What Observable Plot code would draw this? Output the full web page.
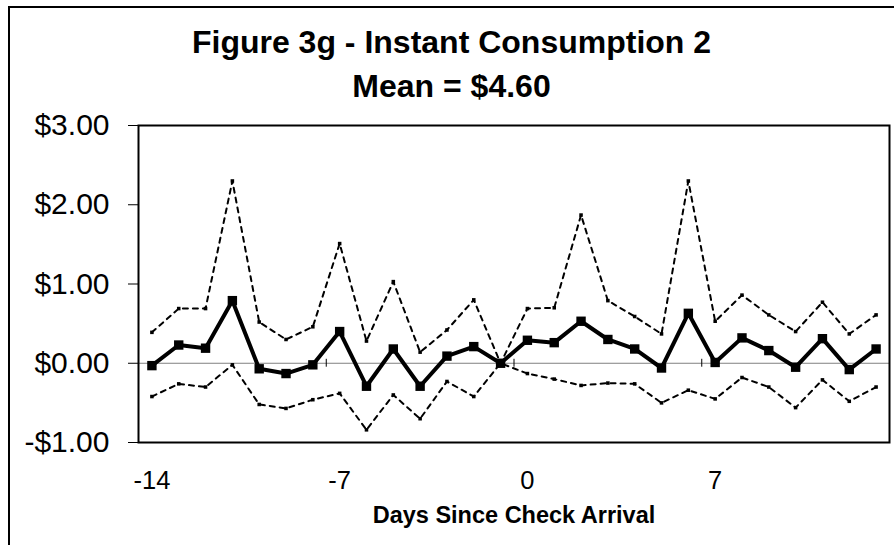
<!DOCTYPE html>
<html><head><meta charset="utf-8">
<script src="https://cdn.jsdelivr.net/npm/d3@7"></script>
<script src="https://cdn.jsdelivr.net/npm/@observablehq/plot@0.6"></script>
<style>
body{margin:0;background:#fff;}
#wrap{position:relative;width:894px;height:545px;overflow:hidden;font-family:"Liberation Sans",Arial,sans-serif;color:#000;}
#frame{position:absolute;left:8px;top:6px;width:900px;height:600px;border-left:2px solid #000;border-top:2px solid #000;}
#title{position:absolute;left:9px;width:885px;top:20px;text-align:center;font-weight:bold;font-size:32px;line-height:44px;}
#chart{position:absolute;left:0;top:0;}
</style></head>
<body><div id="wrap"><div id="frame"></div><div id="title"></div><div id="chart"></div></div>
<script>
const titleLines = ["Figure 3g - Instant Consumption 2", "Mean = $4.60"];
const xAxisTitle = "Days Since Check Arrival";
const days = [-14,-13,-12,-11,-10,-9,-8,-7,-6,-5,-4,-3,-2,-1,0,1,2,3,4,5,6,7,8,9,10,11,12,13];
const meanVals = [-0.03,0.23,0.19,0.79,-0.07,-0.13,-0.02,0.40,-0.29,0.18,-0.29,0.09,0.21,0.00,0.29,0.26,0.53,0.30,0.18,-0.06,0.63,0.01,0.32,0.16,-0.05,0.31,-0.08,0.18];
const upperVals = [0.39,0.69,0.69,2.30,0.52,0.30,0.46,1.51,0.28,1.03,0.14,0.42,0.80,0.00,0.69,0.70,1.87,0.79,0.59,0.37,2.30,0.53,0.86,0.61,0.40,0.77,0.37,0.61];
const lowerVals = [-0.42,-0.26,-0.30,-0.02,-0.52,-0.57,-0.46,-0.38,-0.84,-0.40,-0.70,-0.23,-0.42,0.00,-0.13,-0.20,-0.28,-0.25,-0.26,-0.50,-0.34,-0.45,-0.18,-0.30,-0.56,-0.21,-0.48,-0.30];
const xTickLabels = [-14,-7,0,7];
const xBoundaryTicks = [-14.5,-7.5,-0.5,6.5];
const yTicks = [-1,0,1,2,3];

document.getElementById("title").innerHTML = titleLines.map(t => `<div>${t}</div>`).join("");

const rows = days.map((d,i) => ({day:d, mean:meanVals[i], upper:upperVals[i], lower:lowerVals[i]}));
const fmt = d => (d < 0 ? "-$" : "$") + Math.abs(d).toFixed(2);

const chart = Plot.plot({
  width: 894, height: 545,
  marginLeft: 138, marginRight: 5, marginTop: 125, marginBottom: 103,
  style: {fontFamily: '"Liberation Sans", Arial, sans-serif', background: "transparent", color: "#000", overflow: "visible"},
  x: {domain: [-14.5, 13.5], label: null},
  y: {domain: [-1, 3], label: null},
  marks: [
    Plot.ruleY([0], {stroke: "#808080", strokeWidth: 1}),
    Plot.ruleX(xBoundaryTicks, {y1: -0.05, y2: 0.05, stroke: "#000", strokeWidth: 1}),
    Plot.line(rows, {x: "day", y: "upper", stroke: "#000", strokeWidth: 2, strokeDasharray: "5,5"}),
    Plot.line(rows, {x: "day", y: "lower", stroke: "#000", strokeWidth: 2, strokeDasharray: "5,5"}),
    Plot.dot(rows, {x: "day", y: "upper", symbol: "square", r: 2, fill: "#000", stroke: null}),
    Plot.dot(rows, {x: "day", y: "lower", symbol: "square", r: 2, fill: "#000", stroke: null}),
    Plot.line(rows, {x: "day", y: "mean", stroke: "#000", strokeWidth: 4, strokeLinejoin: "miter"}),
    Plot.dot(rows, {x: "day", y: "mean", symbol: "square", r: 5.3, fill: "#000", stroke: null}),
    Plot.frame({stroke: "#000", strokeWidth: 2}),
    Plot.axisY(yTicks, {tickFormat: fmt, fontSize: 30, tickSize: 10, tickPadding: 19, label: null}),
    Plot.axisX(xTickLabels, {tickFormat: d => String(d), tickSize: 0, tickPadding: 28, fontSize: 25.5, label: null}),
    Plot.text([xAxisTitle], {frameAnchor: "bottom", lineAnchor: "middle", dy: 73, fontSize: 23.5, fontWeight: "bold", fill: "#000"})
  ]
});
document.getElementById("chart").appendChild(chart);
</script>
</body></html>
